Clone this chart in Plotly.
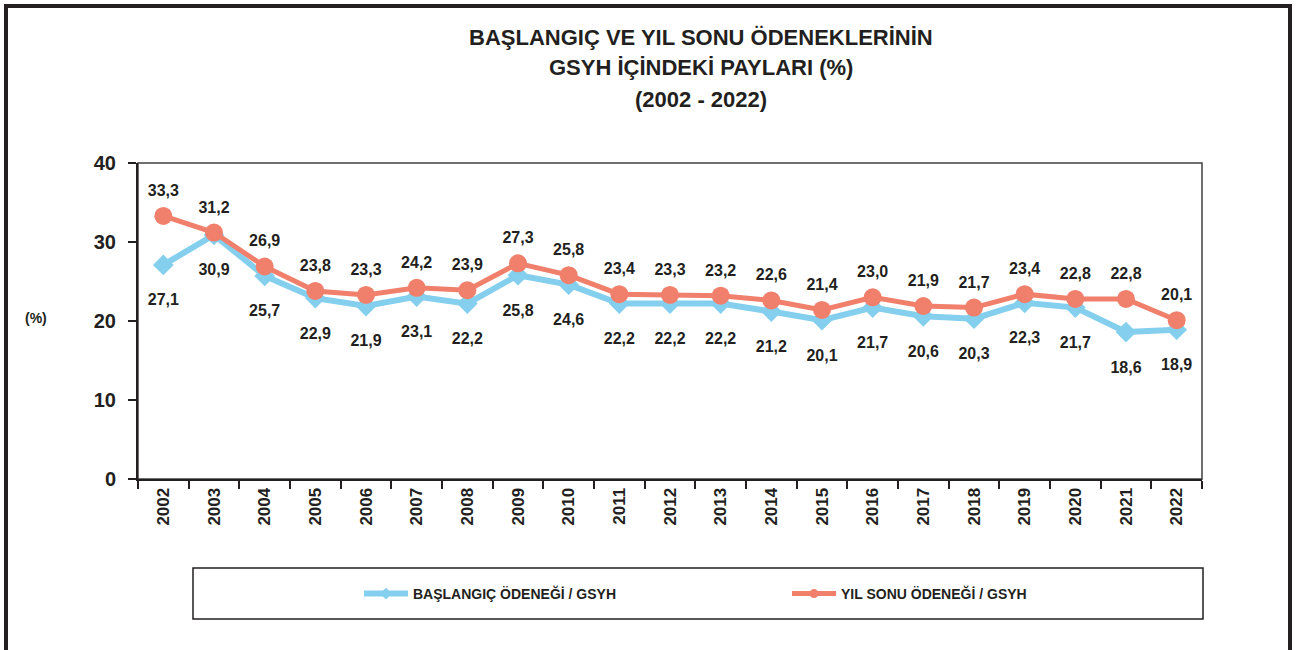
import plotly.graph_objects as go

years = [str(y) for y in range(2002, 2023)]
baslangic = [27.1, 30.9, 25.7, 22.9, 21.9, 23.1, 22.2, 25.8, 24.6, 22.2, 22.2,
             22.2, 21.2, 20.1, 21.7, 20.6, 20.3, 22.3, 21.7, 18.6, 18.9]
yil_sonu = [33.3, 31.2, 26.9, 23.8, 23.3, 24.2, 23.9, 27.3, 25.8, 23.4, 23.3,
            23.2, 22.6, 21.4, 23.0, 21.9, 21.7, 23.4, 22.8, 22.8, 20.1]
y_ticks = [0, 10, 20, 30, 40]
name_bas = "BAŞLANGIÇ ÖDENEĞİ / GSYH"
name_yil = "YIL SONU ÖDENEĞİ / GSYH"
title_lines = ["BAŞLANGIÇ VE YIL SONU ÖDENEKLERİNİN", "GSYH İÇİNDEKİ PAYLARI (%)", "(2002 - 2022)"]

FONT = "Liberation Sans, Arial, sans-serif"
INK = "#231F20"
BLUE = "#85CFEE"
RED = "#F07F6C"


def fmt(v):
    return f"{v:.1f}".replace(".", ",")


fig = go.Figure()
# lines + markers
fig.add_trace(go.Scatter(
    x=years, y=baslangic, mode="lines+markers", name=name_bas, showlegend=False,
    line=dict(color=BLUE, width=6),
    marker=dict(symbol="diamond", size=16, color=BLUE),
))
fig.add_trace(go.Scatter(
    x=years, y=yil_sonu, mode="lines+markers", name=name_yil, showlegend=False,
    line=dict(color=RED, width=5),
    marker=dict(symbol="circle", size=18, color=RED),
))
# data labels (transparent markers control label offset)
fig.add_trace(go.Scatter(
    x=years, y=baslangic, mode="markers+text", showlegend=False, hoverinfo="skip",
    marker=dict(size=44, color="rgba(0,0,0,0)"),
    text=[fmt(v) for v in baslangic], textposition="bottom center",
    textfont=dict(family=FONT, size=16, color=INK, weight="bold"),
    cliponaxis=False,
))
fig.add_trace(go.Scatter(
    x=years, y=yil_sonu, mode="markers+text", showlegend=False, hoverinfo="skip",
    marker=dict(size=24, color="rgba(0,0,0,0)"),
    text=[fmt(v) for v in yil_sonu], textposition="top center",
    textfont=dict(family=FONT, size=16, color=INK, weight="bold"),
    cliponaxis=False,
))
# legend entries
fig.add_trace(go.Scatter(
    x=[None], y=[None], mode="lines+markers", name=name_bas, legend="legend",
    line=dict(color=BLUE, width=6), marker=dict(symbol="diamond", size=9, color=BLUE),
))
fig.add_trace(go.Scatter(
    x=[None], y=[None], mode="lines+markers", name=name_yil, legend="legend2",
    line=dict(color=RED, width=5), marker=dict(symbol="circle", size=9, color=RED),
))

L, R, T, B = 138, 1202, 163, 479
W, H = 1297, 650
pw, ph = R - L, B - T


def px(x):
    return (x - L) / pw


def py(y):
    return (B - y) / ph


legend_common = dict(
    orientation="h", xanchor="left", y=py(594), yanchor="middle",
    font=dict(family=FONT, size=14, color=INK, weight="bold"),
    bgcolor="rgba(0,0,0,0)", itemwidth=44,
)

annotations = [
    dict(text=t, xref="paper", yref="paper", x=px(701), y=py(yc),
         showarrow=False, xanchor="center", yanchor="middle",
         font=dict(family=FONT, size=22, color=INK, weight="bold"))
    for t, yc in zip(title_lines, [37, 68, 99])
]
annotations.append(
    dict(text="(%)", xref="paper", yref="paper", x=px(36), y=py(318),
         showarrow=False, xanchor="center", yanchor="middle",
         font=dict(family=FONT, size=14, color=INK, weight="bold"))
)

fig.update_layout(
    width=W, height=H,
    margin=dict(l=L, r=W - R, t=T, b=H - B),
    paper_bgcolor="white", plot_bgcolor="white",
    font=dict(family=FONT, color=INK),
    showlegend=True,
    legend=dict(x=px(359), **legend_common),
    legend2=dict(x=px(787), **legend_common),
    xaxis=dict(
        type="category", range=[-0.5, len(years) - 0.5],
        tickson="boundaries", ticks="outside", ticklen=8, tickwidth=2, tickcolor=INK,
        showline=True, linecolor=INK, linewidth=2,
        showgrid=False, tickangle=-90,
        tickfont=dict(family=FONT, size=17, color=INK, weight="bold"),
    ),
    yaxis=dict(
        range=[0, 40], tickvals=y_ticks, ticks="outside", ticklen=8, tickwidth=2,
        tickcolor=INK, showline=True, linecolor=INK, linewidth=2,
        showgrid=False, zeroline=False, ticklabelstandoff=8,
        tickfont=dict(family=FONT, size=20, color=INK, weight="bold"),
    ),
    shapes=[
        dict(type="rect", xref="paper", yref="paper", x0=0, x1=1, y0=0, y1=1,
             line=dict(color="#404040", width=1.5), layer="below"),
        dict(type="rect", xref="paper", yref="paper", x0=px(193), x1=px(1203),
             y0=py(619), y1=py(568), line=dict(color=INK, width=1.5)),
        dict(type="rect", xref="paper", yref="paper", x0=px(6), x1=px(1290),
             y0=py(700), y1=py(6), line=dict(color=INK, width=4)),
    ],
    annotations=annotations,
)

fig.write_html(
    "out.html",
    config={"displayModeBar": False},
    post_script="document.body.style.margin='0';document.body.style.overflow='hidden';",
)
